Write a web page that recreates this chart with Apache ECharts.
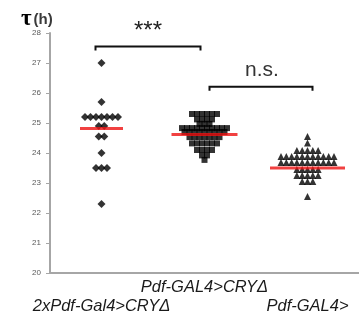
<!DOCTYPE html>
<html><head><meta charset="utf-8">
<script src="https://cdn.jsdelivr.net/npm/echarts@6/dist/echarts.min.js"></script>
<style>html,body{margin:0;padding:0;background:#fff}#c{width:359px;height:324px}</style>
</head><body><div id="c"></div>
<script>
// ---- data ----
const categories = ['2xPdf-Gal4>CRYΔ', 'Pdf-GAL4>CRYΔ', 'Pdf-GAL4>'];
const yTicks = [20, 21, 22, 23, 24, 25, 26, 27, 28];
const group1 = [27.0, 25.7,
  25.2, 25.2, 25.2, 25.2, 25.2, 25.2, 25.2,
  24.9, 24.9,
  24.55, 24.55,
  24.0,
  23.5, 23.5, 23.5,
  22.3];
const group2 = [25.3, 25.3, 25.3, 25.3, 25.3, 25.3,
  25.12, 25.12, 25.12, 25.12,
  24.97, 24.97, 24.97,
  24.83, 24.83, 24.83, 24.83, 24.83, 24.83, 24.83, 24.83, 24.83, 24.83,
  24.7, 24.7, 24.7, 24.7, 24.7, 24.7, 24.7, 24.7, 24.7,
  24.53, 24.53, 24.53, 24.53, 24.53, 24.53, 24.53,
  24.32, 24.32, 24.32, 24.32, 24.32, 24.32,
  24.1, 24.1, 24.1, 24.1,
  23.92, 23.92,
  23.77];
const group3 = [24.55,
  24.33,
  24.08, 24.08, 24.08, 24.08, 24.08,
  23.88, 23.88, 23.88, 23.88, 23.88, 23.88, 23.88, 23.88, 23.88, 23.88, 23.88,
  23.68, 23.68, 23.68, 23.68, 23.68, 23.68, 23.68, 23.68, 23.68, 23.68, 23.68,
  23.45, 23.45, 23.45, 23.45, 23.45,
  23.25, 23.25, 23.25, 23.25, 23.25,
  23.05, 23.05, 23.05,
  22.55];
const means = [24.82, 24.62, 23.5];
const sigLabels = ['***', 'n.s.'];

// ---- styling ----
const groups = [group1, group2, group3];
const symbols = ['diamond', 'rect', 'triangle'];
const symSizes = [[8, 8], 6, [7, 7]];
const spacing = [5.5, 5, 5.3];
const meanWidths = [43, 66, 75];

function swarm(vals, g) {
  const counts = {}, seen = {};
  vals.forEach(v => { counts[v] = (counts[v] || 0) + 1; });
  return vals.map(v => {
    const k = seen[v] || 0; seen[v] = k + 1;
    const n = counts[v];
    return { value: [g, v], symbolOffset: [(k - (n - 1) / 2) * spacing[g], 0] };
  });
}

const series = groups.map((vals, g) => ({
  type: 'scatter', symbol: symbols[g], symbolSize: symSizes[g],
  itemStyle: { color: '#000' }, data: swarm(vals, g), z: 2, silent: true
}));
series.push({
  type: 'scatter', symbol: 'rect', z: 5, silent: true,
  itemStyle: { color: '#ee1111' },
  data: means.map((m, g) => ({ value: [g, m], symbolSize: [meanWidths[g], 3] }))
});

const chart = echarts.init(document.getElementById('c'));
chart.setOption({
  animation: false,
  backgroundColor: '#fff',
  title: {
    text: '{t|τ}{h|(h)}', left: 16, top: 3,
    textStyle: { rich: {
      t: { fontSize: 23, fontWeight: 'bold', color: '#000', fontFamily: 'Liberation Serif', padding: [0, 2, 0, 0] },
      h: { fontSize: 15, color: '#3a3a3a', fontFamily: 'Liberation Sans' } } }
  },
  grid: { left: 50, top: 33, width: 315, height: 240 },
  xAxis: {
    type: 'category', data: categories, boundaryGap: true,
    axisLine: { lineStyle: { color: '#a6a6a6', width: 2 } },
    axisTick: { show: false },
    axisLabel: {
      interval: 0, margin: 5, fontSize: 16.5, fontStyle: 'italic', lineHeight: 19,
      fontFamily: 'Liberation Sans', color: '#1a1a1a',
      formatter: (v, i) => i === 1 ? v : '\n' + v
    },
    splitLine: { show: false }
  },
  yAxis: {
    type: 'value', min: yTicks[0], max: yTicks[yTicks.length - 1], interval: 1,
    axisLine: { show: true, lineStyle: { color: '#a6a6a6', width: 2 } },
    axisTick: { show: true, length: 4, lineStyle: { color: '#a6a6a6', width: 1 } },
    axisLabel: { fontSize: 8, color: '#595959', margin: 9, fontFamily: 'Liberation Sans' },
    splitLine: { show: false }
  },
  series: series
});

// significance brackets (annotation), placed through the axes
function px(c, v) { return chart.convertToPixel({ gridIndex: 0 }, [c, v]); }
const b1L = px(0, 27.55), b1R = px(1, 27.55);
const b2L = px(1, 26.21), b2R = px(2, 26.21);
function bracket(x1, x2, y) {
  return { type: 'polyline', z: 10, shape: { points: [[x1, y + 4], [x1, y], [x2, y], [x2, y + 4]] },
    style: { stroke: '#111', lineWidth: 2, fill: null } };
}
chart.setOption({ graphic: [
  bracket(b1L[0] - 6, b1R[0] - 4, b1L[1]),
  bracket(b2L[0] + 5, b2R[0] + 5, b2L[1]),
  { type: 'text', z: 10, x: (b1L[0] + b1R[0]) / 2 - 5, y: b1L[1] - 15,
    style: { text: sigLabels[0], fontSize: 24, fill: '#222', align: 'center', verticalAlign: 'middle', fontFamily: 'Liberation Sans' } },
  { type: 'text', z: 10, x: (b2L[0] + b2R[0]) / 2 + 6, y: b2L[1] - 16,
    style: { text: sigLabels[1], fontSize: 21, fill: '#333', align: 'center', verticalAlign: 'middle', fontFamily: 'Liberation Sans' } }
] });
</script></body></html>
